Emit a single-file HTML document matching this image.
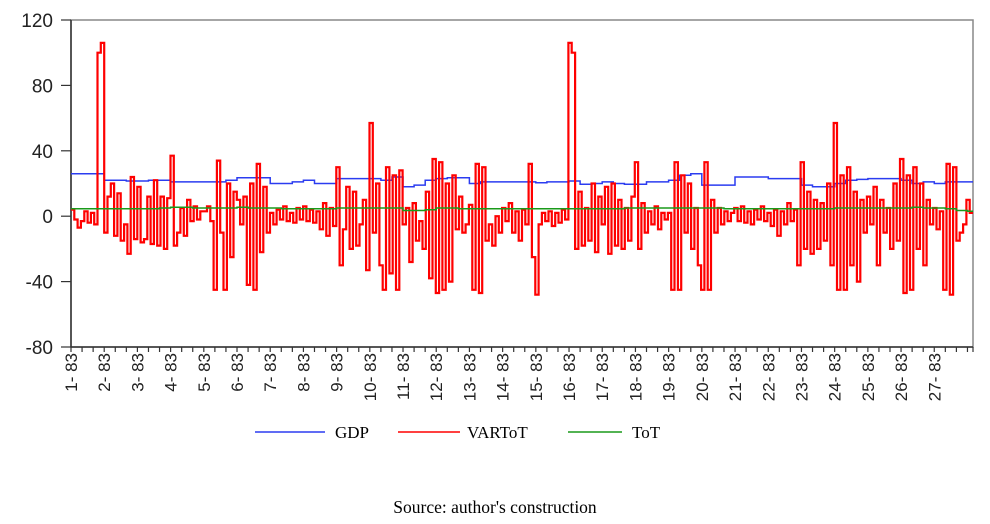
<!DOCTYPE html>
<html><head><meta charset="utf-8"><style>
body{margin:0;background:#fff;}
svg{display:block;}
</style></head><body>
<svg id="chart" width="990" height="524" xmlns="http://www.w3.org/2000/svg">
<rect x="0" y="0" width="990" height="524" fill="#fff"/>
<g id="axes"></g>
<g id="series"></g>
<g>
 <line x1="255" y1="432" x2="325" y2="432" stroke="#2b3cf0" stroke-width="1.5"/>
 <text x="335" y="438" font-family="Liberation Serif, serif" font-size="17">GDP</text>
 <line x1="398" y1="432" x2="460" y2="432" stroke="#f00" stroke-width="1.5"/>
 <text x="467" y="438" font-family="Liberation Serif, serif" font-size="17">VARToT</text>
 <line x1="568" y1="432" x2="622" y2="432" stroke="#1a9a1a" stroke-width="1.5"/>
 <text x="632" y="438" font-family="Liberation Serif, serif" font-size="17">ToT</text>
</g>
<text x="495" y="513" text-anchor="middle" font-family="Liberation Serif, serif" font-size="17.5">Source: author's construction</text>
</svg>
<script>
const yTicks=[120,80,40,0,-40,-80];
const xLabels=["1- 83","2- 83","3- 83","4- 83","5- 83","6- 83","7- 83","8- 83","9- 83","10- 83","11- 83","12- 83","13- 83","14- 83","15- 83","16- 83","17- 83","18- 83","19- 83","20- 83","21- 83","22- 83","23- 83","24- 83","25- 83","26- 83","27- 83"];
const gdp=[26,26,26,22,22,21.5,21.5,22,22,21,21,21,21,21,22,23.5,23.5,23.5,20,20,21,22,20,20,23,23,23,23,22,24,18,19,22,23,23.5,23.5,20,21,21,21,21,21,20.5,21,21,21.5,19.5,20,21,20,19.5,19.5,21,21,22,25,26,19,19,19,24,24,24,23,23,23,19,18,18,20,22,22.5,23,23,23,22,20,21,20,21,21,21];
const tot=[4.5,4.5,4.5,4.5,4.5,4.5,4.5,4.5,5,5.5,5.5,5,5,5,5,5.5,5,5,5,4.5,4.5,4.5,4.5,4.5,5,5,5,5,5,5,3.5,3.5,4,5,5,4.5,4.5,4.5,4.5,4.5,4.5,4.5,4.5,4.5,4.5,4.5,4.5,4.5,4.5,4.5,5,5,5,5,5,5,5,5,5,4.5,4.5,4.5,4.5,4.5,4.5,4.5,4.5,4.5,4.5,5,5,5,5,5,5,5,5.5,5,5,4.5,3.5,3];
const vartot=[4,-2,-7,-3,3,-4,2,-5,100,106,
-10,12,20,-12,14,-15,-5,-23,24,-14,
18,-16,-14,12,-17,22,-18,12,-20,11,
37,-18,-10,5,-12,10,-3,6,-2,3,
3,6,-3,-45,34,-10,-45,20,-25,15,
10,-5,12,-42,20,-45,32,-22,18,-10,
2,-5,4,-2,6,-3,2,-4,5,-2,
6,-3,4,-4,3,-8,8,-12,5,-6,
30,-30,-8,18,-20,15,-18,-5,10,-33,
57,-10,20,-30,-45,30,-35,25,-45,28,
-5,5,-28,8,-15,-3,-20,15,-38,35,
-47,33,-45,20,-40,25,-8,12,-10,-5,
7,-45,32,-47,30,-15,-5,-18,0,-10,
5,-3,8,-10,3,-15,4,-5,32,-25,
-48,-5,2,-3,3,-6,2,-4,4,-2,
106,100,-20,15,-18,5,-15,20,-22,12,
-5,18,-23,20,-18,10,-20,5,-15,12,
33,-20,8,-10,3,-5,6,-8,2,-2,
2,-45,33,-45,25,-10,20,-20,5,-30,
-45,33,-45,10,-10,5,-5,3,-3,2,
5,-3,6,-4,3,-5,4,-2,6,-3,
2,-6,4,-12,3,-5,8,-3,4,-30,
33,-20,15,-23,10,-20,8,-15,20,-30,
57,-45,25,-45,30,-30,15,-40,10,-10,
12,-5,18,-30,10,-10,5,-20,20,-15,
35,-47,25,-45,30,-20,20,-30,10,-5,
5,-8,3,-45,32,-48,30,-15,-10,-5,10,2];

const NS="http://www.w3.org/2000/svg";
const L=71,R=973,T=20,B=347,TMAX=81.5;
function xs(t){return L+t*(R-L)/TMAX;}
function ys(v){return T+(120-v)*(B-T)/200;}
function mk(tag,attrs,parent){const e=document.createElementNS(NS,tag);for(const k in attrs)e.setAttribute(k,attrs[k]);parent.appendChild(e);return e;}
const ax=document.getElementById('axes'),se=document.getElementById('series');

let fr=mk('rect',{x:L,y:T,width:R-L,height:B-T,fill:'none',stroke:'#888','stroke-width':1.5},ax);


let yl=mk('line',{x1:L,y1:T,x2:L,y2:B,stroke:'#333','stroke-width':1.5},ax);


let xl=mk('line',{x1:L,y1:B,x2:R,y2:B,stroke:'#333','stroke-width':1.5},ax);



yTicks.forEach(v=>{
 const y=ys(v);
 let tk=mk('line',{x1:L-10,y1:y,x2:L,y2:y,stroke:'#333','stroke-width':1.2},ax);
 
 
 let tx=mk('text',{x:L-18,y:y+7,'text-anchor':'end','font-family':'Liberation Sans, sans-serif','font-size':19,fill:'#222'},ax);
 tx.textContent=v;
 
 
});
for(let k=0;k<=81;k++){
 const x=xs(k);
 let tk=mk('line',{x1:x,y1:B,x2:x,y2:B+5,stroke:'#333','stroke-width':1.2},ax);
 
 
}
let tkE=mk('line',{x1:R,y1:B,x2:R,y2:B+5,stroke:'#333','stroke-width':1.2},ax);


xLabels.forEach((s,j)=>{
 const x=xs(j*3)+6;
 let tx=mk('text',{transform:`translate(${x},${B+6}) rotate(-90)`,'text-anchor':'end','font-family':'Liberation Sans, sans-serif','font-size':17,fill:'#222'},ax);
 tx.textContent=s;
 
 
});

function stepPath(arr,span){let d='';arr.forEach((v,i)=>{const x0=xs(i*span),x1=xs(Math.min((i+1)*span,TMAX)),y=ys(v);d+=(i?'L':'M')+x0.toFixed(1)+' '+y.toFixed(1)+'L'+x1.toFixed(1)+' '+y.toFixed(1);});return d;}
let g=mk('path',{d:stepPath(gdp,1),fill:'none',stroke:'#2b3cf0','stroke-width':1.5},se);


let t=mk('path',{d:stepPath(tot,1),fill:'none',stroke:'#1a9a1a','stroke-width':1.5},se);


const n=vartot.length;
let r=mk('path',{d:stepPath(vartot,TMAX/n),fill:'none',stroke:'#f00','stroke-width':2.2,'stroke-linejoin':'miter'},se);


se.appendChild(t);
</script>
</body></html>
